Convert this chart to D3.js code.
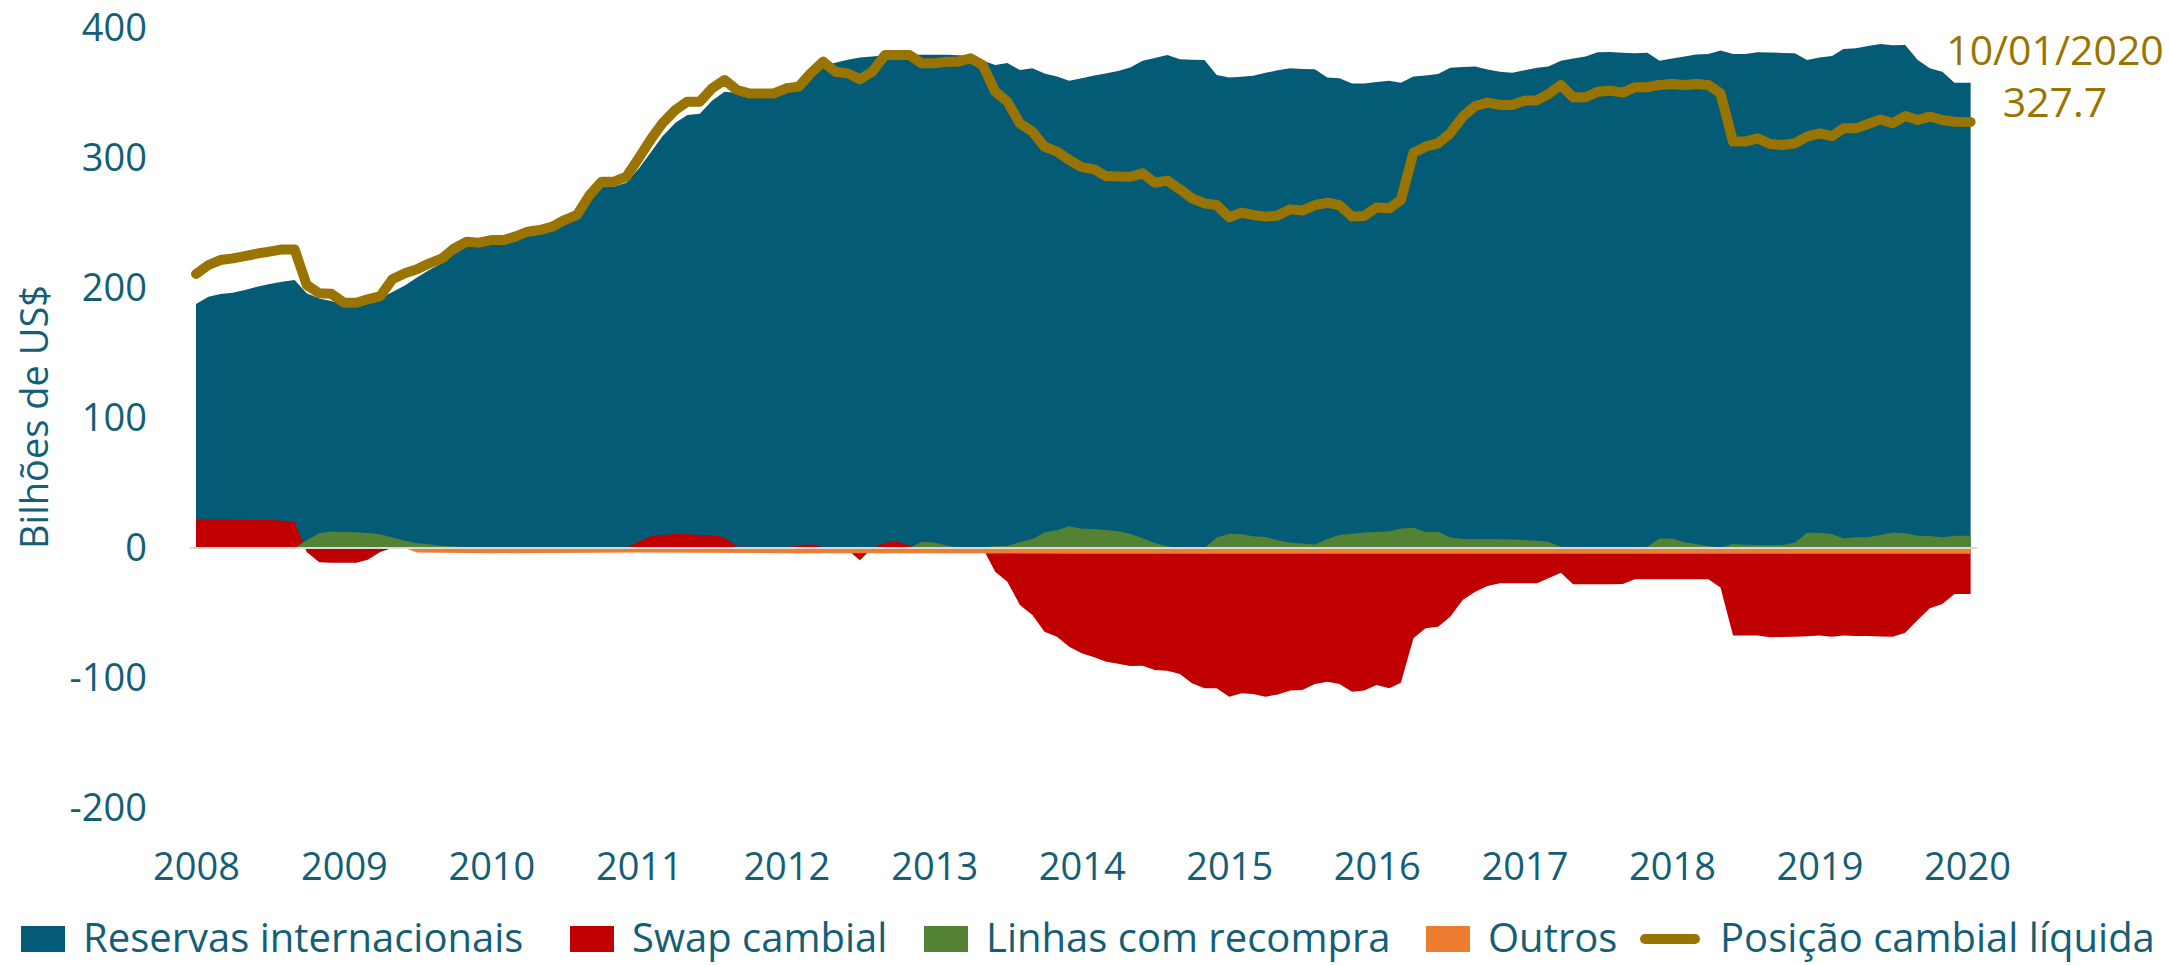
<!DOCTYPE html>
<html><head><meta charset="utf-8">
<script src="https://cdn.jsdelivr.net/npm/d3@7"></script>
<style>body{margin:0;background:#fff} svg{display:block} text{font-family:"Open Sans",sans-serif}</style>
</head><body><svg id="c" width="2169" height="965"></svg>
<script>
// ---- DATA ----
const dates = [
"2008-01","2008-02","2008-03","2008-04","2008-05","2008-06","2008-07","2008-08","2008-09","2008-10","2008-11","2008-12",
"2009-01","2009-02","2009-03","2009-04","2009-05","2009-06","2009-07","2009-08","2009-09","2009-10","2009-11","2009-12",
"2010-01","2010-02","2010-03","2010-04","2010-05","2010-06","2010-07","2010-08","2010-09","2010-10","2010-11","2010-12",
"2011-01","2011-02","2011-03","2011-04","2011-05","2011-06","2011-07","2011-08","2011-09","2011-10","2011-11","2011-12",
"2012-01","2012-02","2012-03","2012-04","2012-05","2012-06","2012-07","2012-08","2012-09","2012-10","2012-11","2012-12",
"2013-01","2013-02","2013-03","2013-04","2013-05","2013-06","2013-07","2013-08","2013-09","2013-10","2013-11","2013-12",
"2014-01","2014-02","2014-03","2014-04","2014-05","2014-06","2014-07","2014-08","2014-09","2014-10","2014-11","2014-12",
"2015-01","2015-02","2015-03","2015-04","2015-05","2015-06","2015-07","2015-08","2015-09","2015-10","2015-11","2015-12",
"2016-01","2016-02","2016-03","2016-04","2016-05","2016-06","2016-07","2016-08","2016-09","2016-10","2016-11","2016-12",
"2017-01","2017-02","2017-03","2017-04","2017-05","2017-06","2017-07","2017-08","2017-09","2017-10","2017-11","2017-12",
"2018-01","2018-02","2018-03","2018-04","2018-05","2018-06","2018-07","2018-08","2018-09","2018-10","2018-11","2018-12",
"2019-01","2019-02","2019-03","2019-04","2019-05","2019-06","2019-07","2019-08","2019-09","2019-10","2019-11","2019-12",
"2020-01-10"];

const reservas = [
187.7,193.3,195.4,196.4,198.5,201,203,204.9,206.2,196,
192,190,186.5,186.5,189,192,197,202,208,214,
219,226,232,232,234,234,237,240,241,244,
249,253,266,278,278,281,292,305,317,327,
333,334,344,351,350,349,349,350,352,355,
364,371,373.3,375.5,377.4,378,379,379.5,379.5,379.5,
379.5,379.5,379,378.5,375,371.5,373,367.7,369,365,
362.6,359.5,361.4,363.5,365,367,369.7,374.9,377,379.2,
375.9,375.6,375.4,363.8,362,362.5,363.3,365.5,367.5,369,
368.5,368.2,362,361.3,357.4,357.4,358.5,359.5,357.9,362.6,
363.5,364.6,369.5,370,370.3,368,366.4,365.6,367.5,369.5,
370.3,374.9,376.5,378,381.3,381.5,381,380.5,381,374.9,
376.5,378,379.7,380,382.6,380,380,381.3,381.2,380.8,
380.5,375.4,377.4,378.5,383.8,384.4,386.2,387.7,386.7,387,
375.4,369,366.4,357.9,357.9];

const swap = [
22,22,22,22,21.8,21.5,21.5,21,20,-3,
-11,-11.3,-11.3,-11.3,-9,-3,0,0,0,0,
0,0,0,0,0,0,0,0,0,0,
0,0,0,0,0,0,5,9,10,10.8,
10.5,10,10,8,1,0.8,0.8,0.8,0.8,1.5,
2.8,0.5,0,-1.5,-9.5,0,4,5,2,0,
0,0,0,0,0,-18.2,-25.9,-43.8,-51.5,-64.4,
-68.2,-75.9,-81,-84,-87.4,-89,-90.8,-90.5,-93.8,-94.4,
-96.9,-104.1,-107.9,-107.9,-114.4,-111.8,-112.3,-114.4,-112.6,-109.7,
-109.2,-104.6,-102.8,-104.6,-110.5,-109.7,-105.4,-107.9,-103.6,-69.5,
-61.8,-60.5,-52.8,-40,-33.6,-29.2,-27.2,-27.2,-27.2,-27.2,
-23.3,-19,-27.9,-27.8,-27.8,-27.8,-27.7,-24.1,-24.1,-24.1,
-24.1,-24.1,-24.1,-24.1,-30.3,-67.4,-67.4,-67.4,-68.7,-68.5,
-68.2,-67.8,-67.4,-68.2,-67.4,-67.6,-67.7,-68,-68.2,-65.1,
-55.4,-46.4,-43.1,-35.4,-35.4];

const linhas = [
0,0,0,0,0,0,0,0,0,6,
11.3,12.6,12.3,12.1,11.5,10.5,8,5.5,3.6,2.8,
1.8,1.2,0.8,0.5,0,0,0,0,0,0,
0,0,0,0,0,0,0,0,0,0,
0,0,0,0,0,0,0,0,0,0,
0,0,0,0,0,0,0,0,0,4.9,
4.3,2,0.3,0,0.5,1.3,1.8,4.5,6.9,12,
13.6,16.7,14.8,14.6,13.8,12.8,11,7.5,3.8,1.3,
0,0,0,8,11,10.5,9,8.5,6,4,
3.5,2.6,7,10,11,12,12.3,12.8,15,15.5,
12.3,12.5,8,7,7,6.9,6.7,6.5,6.2,5.5,
4.9,1,0.5,0.5,0.5,0.5,0.5,0.8,1,7.4,
7.4,4.4,3,1.5,0.3,3.1,2.5,2.3,2.3,2.3,
4.1,11.8,11.8,10.8,7.4,8.2,8.2,10,12,11.3,
9.5,9.2,8.2,9.5,9.5];

const outrosDates = ["2008-01","2009-06","2009-07","2010-01","2011-01","2012-01","2013-01","2014-01","2015-01","2016-01","2017-01","2018-01","2019-01","2020-01-10"];
const outros = [0,0,-3.5,-4,-3.5,-4,-4,-4.5,-4.5,-4.5,-4.5,-4.5,-4.5,-4.5];

const posicao = [
210.8,217.7,221.5,222.8,224.5,226.5,228,229.7,229.7,202.3,
195.9,195.5,188.7,188.7,191.3,193.8,206.7,211.3,214.4,219,
222.8,230.5,235.6,234.9,236.9,236.9,239.5,243.3,244.6,247.2,
252.3,256.2,271.5,281.8,281.8,285.6,300,315,327,336.9,
343.3,343.3,353.6,360,352.3,349.7,349.7,349.7,353.6,354.9,
365.1,374.1,366.4,365.1,360.5,366.4,379.2,379.2,379.2,372.8,
372.8,374.1,374.1,376.7,371.5,351,343.3,326.7,320.3,308.7,
304.9,298.5,293,291.3,286.2,285.8,285.6,288.2,281,282.6,
275.9,269,265.1,263.8,254.4,258,256.2,254.9,255.7,260.5,
259.5,263.8,265.6,263.8,254.9,255.4,262,261.3,267.7,304.1,
308.7,311.3,319,331.8,340,342.6,340.8,340.8,344.1,344.5,
349.2,356.2,346.7,346.7,351,351.8,350.3,354.4,354.4,356.2,
357,356.2,357,356.2,349.7,312.6,312.6,315.1,310.8,310,
311.3,316.4,319,316.9,322.8,322.8,326.2,329.7,326.7,332.3,
329.2,331.8,329.2,327.9,327.7];

const yTicks = [-200,-100,0,100,200,300,400];
const xTickYears = ["2008","2009","2010","2011","2012","2013","2014","2015","2016","2017","2018","2019","2020"];
const legendLabels = ["Reservas internacionais","Swap cambial","Linhas com recompra","Outros","Posição cambial líquida"];
const annotationLines = ["10/01/2020","327.7"];

// ---- STYLE ----
const C = {reservas:"#035B75", swap:"#C00000", linhas:"#548235", outros:"#ED7D31", line:"#9A7400", text:"#145E76", axis:"#D9D9D9"};

const pM = d3.timeParse("%Y-%m"), pD = d3.timeParse("%Y-%m-%d");
const parse = s => s.length === 7 ? pM(s) : pD(s);
const D = dates.map(parse);

const svg = d3.select("#c");
svg.append("rect").attr("width",2169).attr("height",965).attr("fill","#fff");

const x = d3.scaleTime().domain([new Date(2008,0,1), new Date(2020,0,1)]).range([196,1967]);
const y = d3.scaleLinear().domain([-200,400]).range([808,28]);

const area = d3.area().x(d=>x(d[0])).y0(y(0)).y1(d=>y(d[1]));
const zip = (ds, vs) => ds.map((d,i)=>[d, vs[i]]);

svg.append("path").datum(zip(D,reservas)).attr("d",area).attr("fill",C.reservas);
svg.append("path").datum(zip(D,swap)).attr("d",area).attr("fill",C.swap);
svg.append("path").datum(zip(D,linhas)).attr("d",area).attr("fill",C.linhas);
svg.append("path").datum(zip(outrosDates.map(parse),outros)).attr("d",area).attr("fill",C.outros);

// zero axis line
svg.append("line").attr("x1",190).attr("x2",1977).attr("y1",y(0)).attr("y2",y(0))
  .attr("stroke",C.axis).attr("stroke-width",2);

// net position line
const line = d3.line().x(d=>x(d[0])).y(d=>y(d[1]));
svg.append("path").datum(zip(D,posicao)).attr("d",line).attr("fill","none")
  .attr("stroke",C.line).attr("stroke-width",10).attr("stroke-linejoin","round").attr("stroke-linecap","round");

// axes
const ya = svg.append("g").attr("transform","translate(147,0)")
  .call(d3.axisLeft(y).tickValues(yTicks).tickSize(0).tickPadding(0).tickFormat(d => String(d)));
ya.select(".domain").remove();
ya.selectAll("text").attr("fill",C.text).style("font-size","38px").style("font-family","'Open Sans'");

const xa = svg.append("g").attr("transform","translate(0,853)")
  .call(d3.axisBottom(x).tickValues(xTickYears.map(s=>new Date(+s,0,1))).tickSize(0).tickPadding(0).tickFormat(d3.timeFormat("%Y")));
xa.select(".domain").remove();
xa.selectAll("text").attr("fill",C.text).style("font-size","38px").style("font-family","'Open Sans'");

// y title
svg.append("text").attr("transform","translate(48,417) rotate(-90)").attr("text-anchor","middle")
  .attr("fill",C.text).style("font-size","38px").text("Bilhões de US$");

// annotation
svg.selectAll("text.ann").data(annotationLines).enter().append("text").attr("class","ann")
  .attr("x",2055).attr("y",(d,i)=>65+i*52).attr("text-anchor","middle")
  .attr("fill",C.line).style("font-size","41px").text(d=>d);

// legend
const legX = [21,570,924,1426,1640];
const legColors = [C.reservas,C.swap,C.linhas,C.outros,C.line];
const lg = svg.append("g");
const legBase = 952;
legendLabels.forEach((lab,i)=>{
  if(i<4){
    lg.append("rect").attr("x",legX[i]).attr("y",legBase-26).attr("width",44).attr("height",26).attr("fill",legColors[i]);
    lg.append("text").attr("x",legX[i]+62).attr("y",legBase).attr("fill",C.text).style("font-size","40px").text(lab);
  } else {
    lg.append("line").attr("x1",legX[i]+5).attr("x2",legX[i]+55).attr("y1",legBase-13).attr("y2",legBase-13)
      .attr("stroke",C.line).attr("stroke-width",10).attr("stroke-linecap","round");
    lg.append("text").attr("x",legX[i]+80).attr("y",legBase).attr("fill",C.text).style("font-size","40px").text(lab);
  }
});
</script></body></html>
